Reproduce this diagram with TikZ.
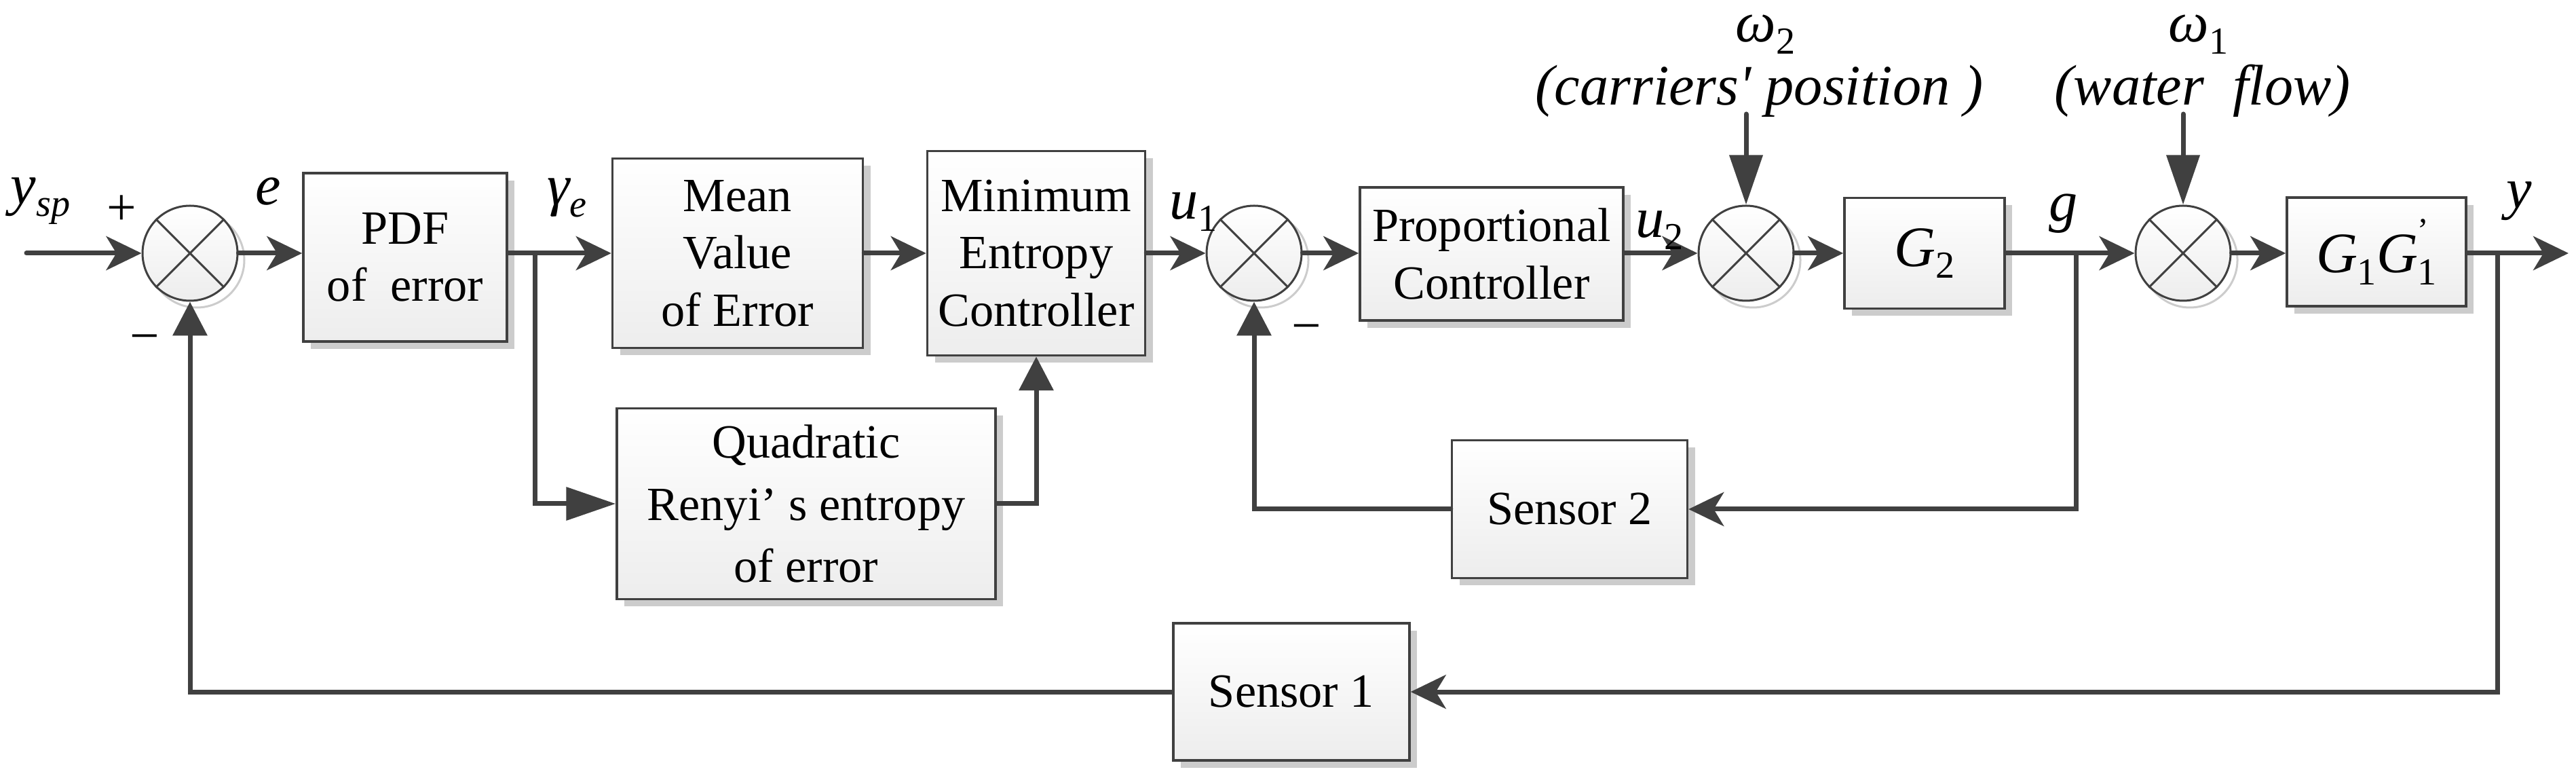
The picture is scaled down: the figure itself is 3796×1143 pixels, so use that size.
\documentclass[tikz,border=0pt]{standalone}
\usepackage{fontspec}
\setmainfont{LiberationSerif}[Extension=.ttf,UprightFont=*-Regular,ItalicFont=*-Italic,BoldFont=*-Bold,BoldItalicFont=*-BoldItalic]
\usetikzlibrary{arrows.meta,shadows}
\definecolor{linec}{HTML}{404040}
\definecolor{shadowc}{HTML}{CCCCCC}
\definecolor{boxbot}{HTML}{EDEDED}
\newcommand\lsub[1]{\raisebox{-0.45ex}{\fontsize{16}{16}\selectfont #1}}
\tikzset{
  blk/.style={draw=linec, line width=0.35mm, top color=white, bottom color=boxbot,
    inner sep=0pt, align=center, font=\rmfamily\fontsize{20}{24}\selectfont,
    drop shadow={shadow xshift=1.1mm, shadow yshift=-1.1mm, fill=shadowc, opacity=1}},
  sumj/.style={circle, draw=linec, line width=0.3mm, minimum size=14mm, inner sep=0pt,
    top color=white, bottom color=boxbot,
    drop shadow={shadow xshift=1mm, shadow yshift=-1mm, fill=none, draw=shadowc, line width=0.3mm, opacity=1}},
  sig/.style={draw=linec, line width=0.7mm, line cap=round, -{Stealth[length=5.2mm,width=5mm,inset=1.5mm]}},
  sigt/.style={draw=linec, line width=0.7mm, line cap=round, -{Triangle[length=5mm,width=5mm]}},
  sigtl/.style={draw=linec, line width=0.7mm, line cap=round, -{Triangle[length=7.3mm,width=4.8mm]}},
  xline/.style={draw=linec, line width=0.3mm},
  lbl/.style={font=\rmfamily\fontsize{24}{28}\selectfont\itshape, inner sep=0pt, anchor=base west},
  sgn/.style={font=\rmfamily\fontsize{22}{26}\selectfont, inner sep=0pt},
}
\begin{document}
\begin{tikzpicture}[x=0.1mm,y=-0.1mm]
\useasboundingbox (0,0) rectangle (3796,1143);

% blocks
\node[sumj] (j1) at (280,373) {};
\node[blk, minimum width=30mm, minimum height=24.8mm] (pdf) at (597,379) {PDF\\of~ error};
\node[blk, minimum width=36.9mm, minimum height=27.9mm] (mean) at (1087,373) {Mean\\Value\\of Error};
\node[blk, minimum width=32.1mm, minimum height=30.1mm] (minc) at (1527,373) {Minimum\\Entropy\\Controller};
\node[blk, minimum width=55.8mm, minimum height=28.1mm, font=\rmfamily\fontsize{20}{26}\selectfont] (quad) at (1188,742) {Quadratic\\Renyi’ s entropy\\of error};
\node[sumj] (j2) at (1848,373) {};
\node[blk, minimum width=38.8mm, minimum height=19.6mm] (prop) at (2198,374) {Proportional\\Controller};
\node[sumj] (j3) at (2573,373) {};
\node[blk, minimum width=23.6mm, minimum height=16.3mm, font=\rmfamily\fontsize{24}{28}\selectfont] (g2) at (2836,373) {\textit{G}\lsub{2}};
\node[sumj] (j4) at (3217,373) {};
\node[blk, minimum width=26.4mm, minimum height=16mm, font=\rmfamily\fontsize{24}{28}\selectfont] (g1) at (3502,371)
  {\textit{G}\lsub{1}\textit{G}\rlap{\raisebox{1.2ex}{\fontsize{14}{14}\selectfont '}}\lsub{1}};
\node[blk, minimum width=34.7mm, minimum height=20.3mm] (s2) at (2313,750) {Sensor 2};
\node[blk, minimum width=34.8mm, minimum height=20.2mm] (s1) at (1903,1019) {Sensor 1};

% crosses in summing junctions
\foreach \j in {j1,j2,j3,j4}{
  \draw[xline] (\j.135) -- (\j.-45);
  \draw[xline] (\j.45) -- (\j.-135);
}

% helper coordinates
\coordinate (in) at (39,373);
\coordinate (br1) at (788,373);
\coordinate (brg) at (3059,373);
\coordinate (bry) at (3680,373);
\coordinate (out) at (3785,373);
\coordinate (d2) at (2573,168);
\coordinate (d1) at (3217,168);

% connectors
\draw[sig] (in) -- (j1.west);
\draw[sig] (j1.east) -- (j1.east -| pdf.west);
\draw[sig] (pdf.east |- br1) -- (br1 -| mean.west);
\draw[sigtl] (br1) |- (quad.west);
\draw[sig] (mean.east) -- (mean.east -| minc.west);
\draw[sigt] (quad.east) -| (minc.south);
\draw[sig] (minc.east) -- (j2.west);
\draw[sig] (j2.east) -- (j2.east -| prop.west);
\draw[sig] (prop.east |- j3) -- (j3.west);
\draw[sig] (j3.east) -- (j3.east -| g2.west);
\draw[sigtl] (d2) -- (j3.north);
\draw[sig] (g2.east |- j4) -- (j4.west);
\draw[sigtl] (d1) -- (j4.north);
\draw[sig] (j4.east) -- (j4.east -| g1.west);
\draw[sig] (g1.east |- bry) -- (out);
\draw[sig] (brg) |- (s2.east);
\draw[sigt] (s2.west) -| (j2.south);
\draw[sig] (bry) |- (s1.east);
\draw[sigt] (s1.west) -| (j1.south);

% labels
\node[lbl] (lysp) at (15,301) {y\lsub{sp}};
\node[lbl] (le) at (376,302) {e};
\node[lbl] (lgam) at (806,302) {γ\lsub{e}};
\node[lbl] (lu1) at (1723,323) {u\lsub{\upshape 1}};
\node[lbl] (lu2) at (2410,350) {u\lsub{\upshape 2}};
\node[lbl] (lg) at (3019,326) {g};
\node[lbl] (ly) at (3693,307) {y};
\node[lbl] (lw2) at (2557,62) {ω\lsub{\upshape 2}};
\node[lbl] (lw1) at (3195,62) {ω\lsub{\upshape 1}};
\node[lbl] (lcar) at (2262,155) {(carriers\textquotesingle\ position )};
\node[lbl] (lwat) at (3027,155) {(water~ flow)};
\node[sgn] (plus) at (179,310) {+};
\node[sgn] (m1) at (213,507) {−};
\node[sgn] (m2) at (1925,492) {−};
\end{tikzpicture}
\end{document}
